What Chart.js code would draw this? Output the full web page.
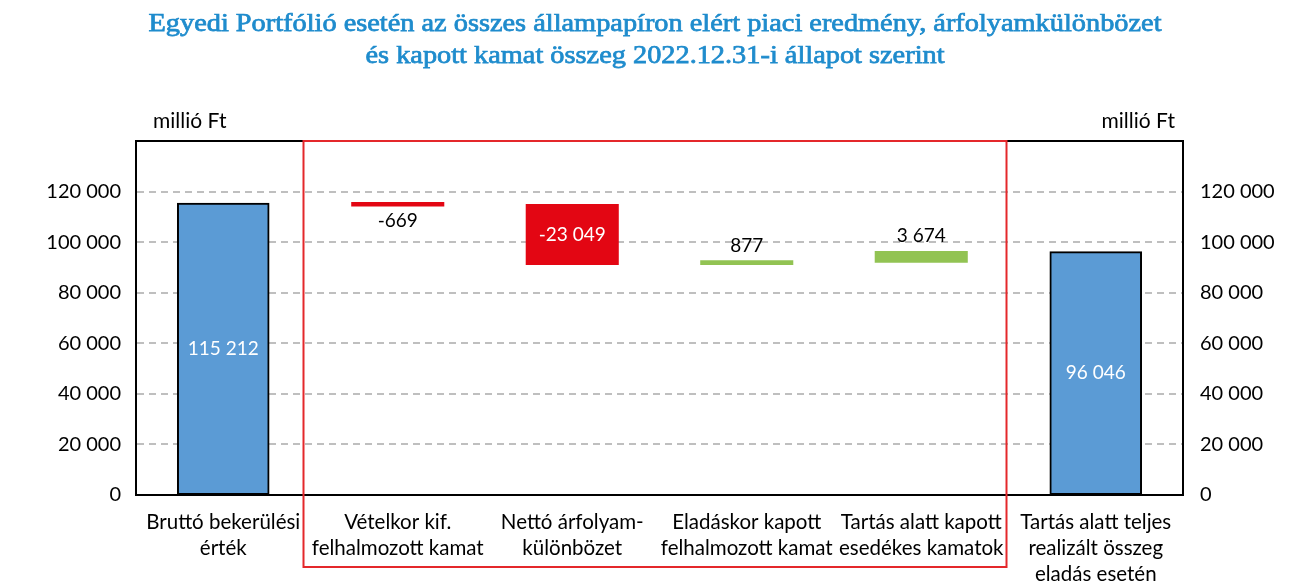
<!DOCTYPE html>
<html><head><meta charset="utf-8">
<script src="https://cdn.jsdelivr.net/npm/chart.js@4/dist/chart.umd.min.js"></script>
<style>html,body{margin:0;padding:0;background:#fff;}#wrap{width:1310px;height:587px;}</style>
</head><body><div id="wrap"><canvas id="c" width="1310" height="587"></canvas></div>
<script>
const titleLines = ['Egyedi Portfólió esetén az összes állampapíron elért piaci eredmény, árfolyamkülönbözet','és kapott kamat összeg 2022.12.31-i állapot szerint'];
const unitLabel = 'millió Ft';
const categories = [['Bruttó bekerülési','érték'],['Vételkor kif.','felhalmozott kamat'],['Nettó árfolyam-','különbözet'],['Eladáskor kapott','felhalmozott kamat'],['Tartás alatt kapott','esedékes kamatok'],['Tartás alatt teljes','realizált összeg','eladás esetén']];
const startValue = 115212;
const changes = [-669, -23049, 877, 3674];
const endValue = 96046;
const yMin = 0, yMax = 140000, yStep = 20000;

const BLUE='#5b9bd5', RED='#e30613', GREEN='#92c353';
const FONT='Lato';
const fmt = v => String(Math.round(v)).replace(/\B(?=(\d{3})+(?!\d))/g,' ');

const ranges=[[0,startValue]];
const labelValues=[startValue];
let cur=startValue;
changes.forEach(d=>{ranges.push([cur,cur+d]);labelValues.push(d);cur+=d;});
ranges.push([0,endValue]);labelValues.push(endValue);
const colors=[BLUE].concat(changes.map(d=>d<0?RED:GREEN)).concat([BLUE]);
const bColors=['#000'].concat(changes.map(d=>d<0?RED:GREEN)).concat(['#000']);
const bWidths=[2].concat(changes.map(()=>0)).concat([2]);
const inflate=[1].concat(changes.map(()=>1.25)).concat([1]);

const deco={id:'deco',afterDraw(chart){
  const ctx=chart.ctx, a=chart.chartArea, x=chart.scales.x;
  ctx.save();
  // title
  ctx.fillStyle='#1f8ccd'; ctx.strokeStyle='#1f8ccd'; ctx.lineWidth=0.75;
  ctx.font='26px "Liberation Serif"';
  ctx.textAlign='left'; ctx.textBaseline='alphabetic';
  const w0=ctx.measureText(titleLines[0]).width;
  const sx=1013/w0;
  [[titleLines[0],31],[titleLines[1],63]].forEach(([t,y])=>{
    const w=ctx.measureText(t).width*sx;
    ctx.save(); ctx.translate(chart.width/2-w/2,y); ctx.scale(sx,1);
    ctx.fillText(t,0,0); ctx.strokeText(t,0,0); ctx.restore();
  });
  // unit labels
  ctx.fillStyle='#000'; ctx.font='21px '+FONT; ctx.textBaseline='middle';
  ctx.textAlign='left'; ctx.fillText(unitLabel,a.left+17,a.top-20);
  ctx.textAlign='right'; ctx.fillText(unitLabel,a.right-8,a.top-20);
  // top frame
  ctx.strokeStyle='#000'; ctx.lineWidth=2;
  ctx.beginPath(); ctx.moveTo(a.left-1,a.top); ctx.lineTo(a.right+1,a.top); ctx.stroke();
  // red box
  const l=(x.getPixelForValue(0)+x.getPixelForValue(1))/2-7;
  const r=(x.getPixelForValue(4)+x.getPixelForValue(5))/2-2;
  ctx.strokeStyle='#e4282b'; ctx.lineWidth=2;
  ctx.strokeRect(l,a.top,r-l,a.bottom+72-a.top);
  // data labels
  const meta=chart.getDatasetMeta(0);
  ctx.font='19px '+FONT; ctx.textAlign='center'; ctx.textBaseline='middle';
  meta.data.forEach((el,i)=>{
    const top=Math.min(el.y,el.base), bot=Math.max(el.y,el.base);
    const v=labelValues[i]; const t=fmt(v);
    if(bot-top>40){ctx.fillStyle='#fff';ctx.fillText(t,el.x,(top+bot)/2);}
    else if(v<0){ctx.fillStyle='#000';ctx.fillText(t,el.x,bot+16);}
    else {ctx.fillStyle='#000';ctx.fillText(t,el.x,top-16);}
  });
  ctx.restore();
}};

new Chart(document.getElementById('c'),{
  type:'bar',
  data:{labels:categories,datasets:[{data:ranges,backgroundColor:colors,borderColor:bColors,borderWidth:bWidths,borderSkipped:false,inflateAmount:inflate,minBarLength:2,categoryPercentage:1,barPercentage:0.519}]},
  options:{
    responsive:false,animation:false,
    layout:{padding:{top:141,left:0,right:0,bottom:0}},
    plugins:{legend:{display:false},title:{display:false},tooltip:{enabled:false}},
    scales:{
      x:{grid:{display:false,drawTicks:false},border:{display:true,color:'#000',width:2},
         ticks:{color:'#000',font:{family:FONT,size:20.5,lineHeight:1.28},padding:14,maxRotation:0,autoSkip:false},
         afterFit(s){s.height=92;}},
      y:{position:'left',min:yMin,max:yMax,
         ticks:{stepSize:yStep,color:'#000',font:{family:FONT,size:20},padding:15,callback:v=>v>=yMax?'':fmt(v)},
         grid:{color:'#bfbfbf',lineWidth:2,drawTicks:false},border:{color:'#000',width:2,dash:[7,5]},
         afterFit(s){s.width=136;}},
      y2:{position:'right',min:yMin,max:yMax,
         ticks:{stepSize:yStep,color:'#000',font:{family:FONT,size:20},padding:17,callback:v=>v>=yMax?'':fmt(v)},
         grid:{display:false,drawTicks:false},border:{color:'#000',width:2},
         afterFit(s){s.width=127;}}
    }
  },
  plugins:[deco]
});
</script></body></html>
